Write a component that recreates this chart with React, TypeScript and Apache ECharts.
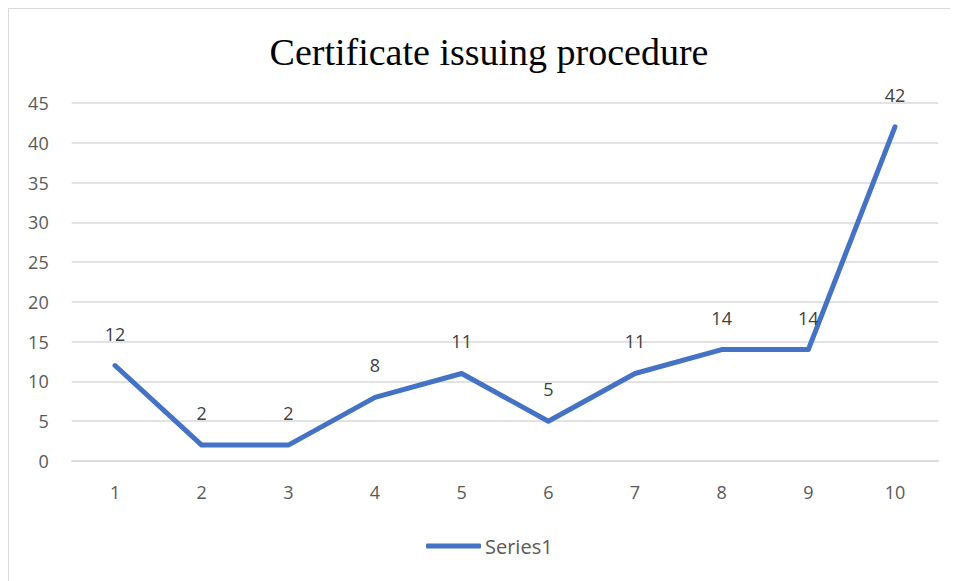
import React, { useEffect, useRef } from "react";
import * as echarts from "echarts";

const categories = ["1", "2", "3", "4", "5", "6", "7", "8", "9", "10"];
const series1 = [12, 2, 2, 8, 11, 5, 11, 14, 14, 42];
const titleText = "Certificate issuing procedure";
const seriesName = "Series1";

export default function App() {
  const ref = useRef<HTMLDivElement>(null);
  useEffect(() => {
    if (!ref.current) return;
    const chart = echarts.init(ref.current, undefined, { renderer: "svg" });
    chart.setOption({
      animation: false,
      backgroundColor: "#ffffff",
      title: {
        text: titleText,
        left: 475,
        top: 38,
        textAlign: "center",
        textVerticalAlign: "middle",
        textStyle: {
          fontFamily: "Liberation Serif, Times New Roman, serif",
          fontSize: 38,
          fontWeight: "normal",
          color: "#000000",
        },
      },
      grid: { left: 62.7, right: 19.7, top: 94, bottom: 120, containLabel: false },
      xAxis: {
        type: "category",
        data: categories,
        boundaryGap: true,
        axisLine: { show: true, lineStyle: { color: "#d9d9d9", width: 1.5 } },
        axisTick: { show: false },
        axisLabel: {
          color: "#595959",
          fontFamily: "Open Sans, sans-serif",
          fontSize: 18,
          margin: 22,
        },
      },
      yAxis: {
        type: "value",
        min: 0,
        max: 45,
        interval: 5,
        axisLine: { show: false },
        axisTick: { show: false },
        splitLine: { lineStyle: { color: "#d9d9d9", width: 1.5 } },
        axisLabel: {
          color: "#595959",
          fontFamily: "Open Sans, sans-serif",
          fontSize: 18,
          margin: 23,
        },
      },
      legend: {
        data: [{ name: seriesName, icon: "roundRect" }],
        left: 412,
        top: 522,
        itemWidth: 55,
        itemHeight: 5,
        itemGap: 10,
        itemStyle: { color: "#4472C4" },
        textStyle: {
          color: "#595959",
          fontFamily: "Open Sans, sans-serif",
          fontSize: 20,
          padding: [0, 0, 0, -1],
        },
      },
      series: [
        {
          name: seriesName,
          type: "line",
          data: series1,
          symbol: "circle",
          symbolSize: 0.01,
          showSymbol: true,
          lineStyle: { color: "#4472C4", width: 5, cap: "round", join: "round" },
          itemStyle: { color: "#4472C4" },
          label: {
            show: true,
            position: "top",
            distance: 23,
            color: "#404040",
            fontFamily: "Open Sans, sans-serif",
            fontSize: 18,
          },
        },
      ],
    });
    return () => chart.dispose();
  }, []);
  return (
    <div
      style={{
        width: 949,
        height: 572,
        borderLeft: "1px solid #d9d9d9",
        borderTop: "1px solid #d9d9d9",
        overflow: "hidden",
      }}
    >
      <div ref={ref} style={{ width: 949, height: 572 }} />
    </div>
  );
}
